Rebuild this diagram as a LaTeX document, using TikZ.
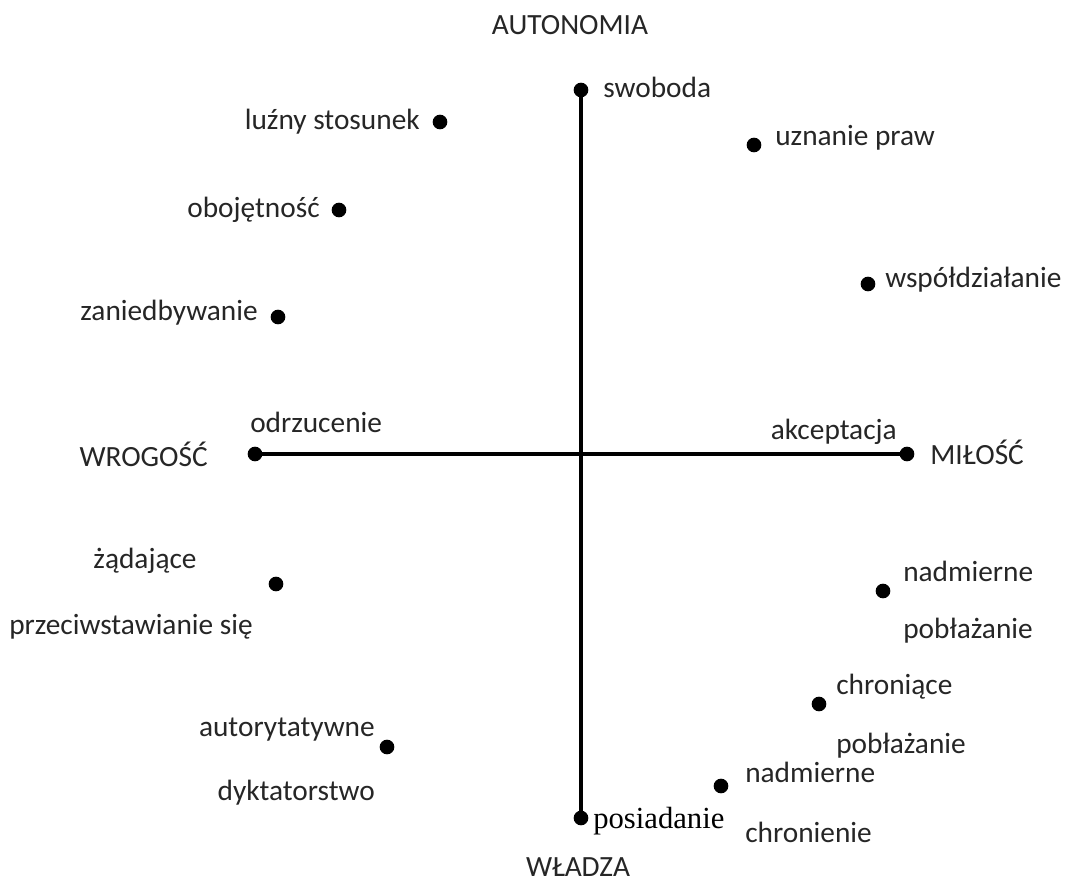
\documentclass[tikz,border=0pt]{standalone}
\usepackage{fontspec}
\setmainfont{Carlito}
\newfontfamily\serifword{Liberation Serif}
\begin{document}
\begin{tikzpicture}[x=0.75pt, y=-0.75pt,
      dot/.style={circle, fill=black, inner sep=0pt, minimum size=11pt},
      lbl/.style={inner sep=0pt, font=\fontsize{22}{26}\selectfont, text=black!85},
      axis/.style={line width=2.3pt}]
      \useasboundingbox[fill=white] (0,0) rectangle (1070,877);
      % axes
      \node[dot] (top) at (581,90) {};
      \node[dot] (bottom) at (581,818) {};
      \node[dot] (left) at (255,454) {};
      \node[dot] (right) at (907,454) {};
      \draw[axis] (top.center) -- (bottom.center);
      \draw[axis] (left.center) -- (right.center);
      \node[lbl] (autonomia) at (570,25) {AUTONOMIA};
      \node[lbl, anchor=base] (wladza) at (578,876) {WŁADZA};
      \node[lbl, anchor=east] (wrogosc) at (208,454) {WROGOŚĆ};
      \node[lbl, anchor=west] (milosc) at (930,452) {MIŁOŚĆ};
      % axis ends
      \node[lbl, anchor=west] (swoboda) at (603,87) {swoboda};
      \node[lbl, anchor=west] (odrzucenie) at (250,422) {odrzucenie};
      \node[lbl, anchor=east] (akceptacja) at (897,432) {akceptacja};
      \node[lbl, anchor=west, font=\serifword\fontsize{23}{26}\selectfont, text=black] (posiadanie) at (593,821) {posiadanie};
      % upper half
      \node[dot] (luzny) at (440,122) {};
      \node[lbl, anchor=east] at (420,122) {luźny stosunek};
      \node[dot] (uznanie) at (754,145) {};
      \node[lbl, anchor=west] at (775,138) {uznanie praw};
      \node[dot] (obojetnosc) at (339,210) {};
      \node[lbl, anchor=east] at (320,210) {obojętność};
      \node[dot] (wspoldzialanie) at (868,284) {};
      \node[lbl, anchor=west] at (885,280) {współdziałanie};
      \node[dot] (zaniedbywanie) at (278,317) {};
      \node[lbl, anchor=east] at (258,313) {zaniedbywanie};
      % lower half
      \node[dot] (zadajace) at (276,584) {};
      \node[lbl] at (145,561) {żądające};
      \node[lbl] at (131,627) {przeciwstawianie się};
      \node[dot] (poblazanie) at (883,591) {};
      \node[lbl, anchor=west] at (903,571) {nadmierne};
      \node[lbl, anchor=west] at (903,631) {pobłażanie};
      \node[dot] (chroniace) at (819,704) {};
      \node[lbl, anchor=west] at (836,687) {chroniące};
      \node[lbl, anchor=west] at (836,746) {pobłażanie};
      \node[dot] (autorytatywne) at (387,747) {};
      \node[lbl, anchor=east] at (375,730) {autorytatywne};
      \node[lbl, anchor=east] at (375,793) {dyktatorstwo};
      \node[dot] (chronienie) at (721,786) {};
      \node[lbl, anchor=west] at (745,772) {nadmierne};
      \node[lbl, anchor=west] at (745,832) {chronienie};
    \end{tikzpicture}
\end{document}
